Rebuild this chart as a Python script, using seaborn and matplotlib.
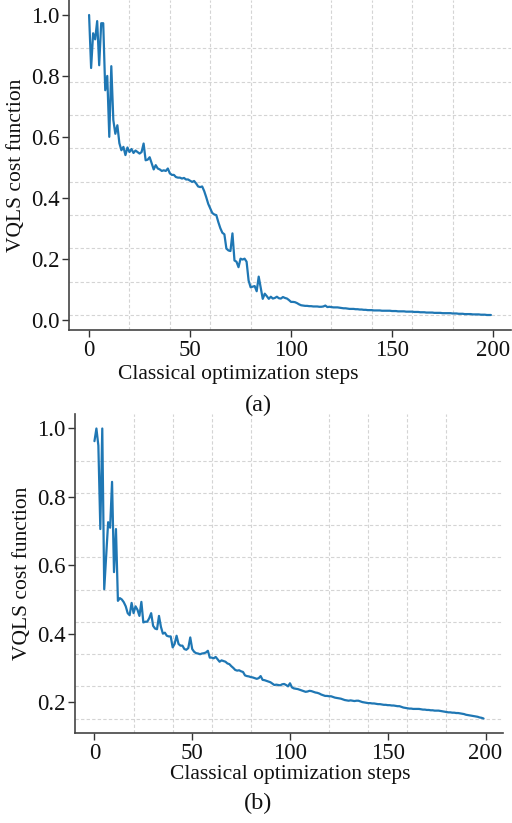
import numpy as np
import pandas as pd
import matplotlib
matplotlib.use("Agg")
import matplotlib.pyplot as plt
import seaborn as sns
from matplotlib.ticker import FixedLocator

sns.set_theme(style="ticks")
plt.rcParams["font.family"] = ["Liberation Serif", "DejaVu Serif"]

steps = list(range(200))

cost_a = [
    1.0, 0.826, 0.94, 0.92, 0.98, 0.835, 0.973, 0.973, 0.753, 0.80,
    0.60, 0.832, 0.655, 0.61, 0.638, 0.579, 0.556, 0.567, 0.54, 0.565,
    0.55, 0.56, 0.547, 0.555, 0.55, 0.545, 0.55, 0.578, 0.523, 0.525,
    0.533, 0.513, 0.493, 0.507, 0.496, 0.493, 0.488, 0.49, 0.488, 0.496,
    0.48, 0.475, 0.475, 0.468, 0.466, 0.466, 0.463, 0.465, 0.46, 0.46,
    0.456, 0.452, 0.455, 0.447, 0.437, 0.435, 0.437, 0.422, 0.402, 0.38,
    0.365, 0.35, 0.345, 0.343, 0.32, 0.30, 0.285, 0.28, 0.233, 0.227,
    0.225, 0.283, 0.194, 0.19, 0.172, 0.20, 0.197, 0.20, 0.19, 0.128,
    0.106, 0.108, 0.11, 0.093, 0.141, 0.105, 0.068, 0.085, 0.077, 0.068,
    0.075, 0.069, 0.071, 0.075, 0.07, 0.069, 0.074, 0.071, 0.069, 0.064,
    0.058, 0.058, 0.057, 0.054, 0.05, 0.047, 0.046, 0.045, 0.045, 0.044,
    0.044, 0.043, 0.043, 0.043, 0.042, 0.042, 0.043, 0.046, 0.041, 0.042,
    0.041, 0.040, 0.040, 0.040, 0.039, 0.038, 0.037, 0.037, 0.036, 0.035,
    0.035, 0.035, 0.034, 0.034, 0.033, 0.033, 0.032, 0.032, 0.031, 0.031,
    0.031, 0.030, 0.030, 0.030, 0.030, 0.029, 0.029, 0.029, 0.029, 0.029,
    0.028, 0.028, 0.028, 0.027, 0.027, 0.027, 0.027, 0.026, 0.026, 0.026,
    0.026, 0.025, 0.025, 0.025, 0.024, 0.024, 0.024, 0.023, 0.023, 0.023,
    0.023, 0.022, 0.022, 0.022, 0.022, 0.021, 0.021, 0.021, 0.021, 0.021,
    0.020, 0.020, 0.020, 0.019, 0.019, 0.019, 0.018, 0.018, 0.018, 0.018,
    0.017, 0.017, 0.017, 0.017, 0.016, 0.016, 0.016, 0.015, 0.015, 0.015,
]

cost_b = [
    0.963, 1.0, 0.95, 0.706, 1.0, 0.53, 0.63, 0.726, 0.71, 0.844,
    0.58, 0.706, 0.496, 0.504, 0.50, 0.492, 0.48, 0.46, 0.454, 0.49,
    0.46, 0.48, 0.47, 0.452, 0.493, 0.433, 0.435, 0.435, 0.445, 0.46,
    0.423, 0.415, 0.413, 0.452, 0.42, 0.40, 0.403, 0.394, 0.392, 0.392,
    0.36, 0.37, 0.394, 0.37, 0.365, 0.365, 0.355, 0.353, 0.358, 0.389,
    0.355, 0.347, 0.343, 0.342, 0.34, 0.342, 0.343, 0.345, 0.35, 0.33,
    0.33, 0.328, 0.332, 0.325, 0.318, 0.322, 0.32, 0.318, 0.313, 0.311,
    0.305, 0.30, 0.294, 0.292, 0.293, 0.29, 0.288, 0.278, 0.276, 0.275,
    0.273, 0.272, 0.27, 0.268, 0.27, 0.276, 0.265, 0.264, 0.262, 0.26,
    0.258, 0.254, 0.25, 0.251, 0.25, 0.249, 0.252, 0.253, 0.25, 0.246,
    0.255, 0.243, 0.24, 0.239, 0.238, 0.236, 0.234, 0.232, 0.23, 0.231,
    0.233, 0.232, 0.23, 0.228, 0.227, 0.225, 0.222, 0.22, 0.218, 0.218,
    0.217, 0.217, 0.215, 0.213, 0.212, 0.211, 0.21, 0.208, 0.206, 0.205,
    0.204, 0.205, 0.204, 0.203, 0.204, 0.204, 0.202, 0.2, 0.199, 0.198,
    0.197, 0.197, 0.196, 0.196, 0.195, 0.194, 0.194, 0.193, 0.192, 0.192,
    0.191, 0.191, 0.19, 0.19, 0.189, 0.188, 0.188, 0.186, 0.184, 0.183,
    0.182, 0.181, 0.181, 0.18, 0.18, 0.18, 0.18, 0.179, 0.178, 0.178,
    0.177, 0.177, 0.176, 0.176, 0.175, 0.175, 0.175, 0.174, 0.173, 0.172,
    0.171, 0.17, 0.17, 0.169, 0.169, 0.168, 0.168, 0.167, 0.166, 0.165,
    0.163, 0.162, 0.161, 0.16, 0.159, 0.158, 0.157, 0.155, 0.154, 0.152,
]

xticks = [0, 50, 100, 150, 200]
yticks_a = [0.0, 0.2, 0.4, 0.6, 0.8, 1.0]
yticks_b = [0.2, 0.4, 0.6, 0.8, 1.0]
xlabel = "Classical optimization steps"
ylabel = "VQLS cost function"
captions = ["(a)", "(b)"]

W, H = 512, 823
fig = plt.figure(figsize=(W / 100, H / 100), dpi=100)
ax_a = fig.add_axes([69 / W, 1 - 330 / H, 442 / W, 330 / H])
ax_b = fig.add_axes([75 / W, 1 - 733 / H, 428 / W, 319 / H])

panels = [(ax_a, cost_a, yticks_a), (ax_b, cost_b, yticks_b)]
for ax, vals, yt in panels:
    df = pd.DataFrame({"step": steps, "cost": vals})
    sns.lineplot(data=df, x="step", y="cost", ax=ax, color="#1f77b4", lw=1.6)
    ax.set_xticks(xticks)
    ax.set_yticks(yt)
    ax.set_xticklabels([str(t) for t in xticks])
    ax.set_yticklabels([f"{t:.1f}" for t in yt])
    ax.xaxis.set_minor_locator(FixedLocator(np.linspace(0, len(steps), 11)))
    ax.yaxis.set_minor_locator(FixedLocator(np.linspace(min(vals), max(vals), 10)))
    ax.grid(False, which="major")
    ax.grid(True, which="minor", linestyle=(0, (3, 2)), color="#d4d4d4", lw=0.8)
    ax.set_axisbelow(True)
    ax.tick_params(which="minor", length=0)
    ax.tick_params(which="major", length=5, width=1.0, color="#333333",
                   labelsize=16.5, pad=2, labelcolor="#111111")
    for s in ["left", "bottom"]:
        ax.spines[s].set_color("#444444")
        ax.spines[s].set_linewidth(1.2)
    sns.despine(ax=ax)
    ax.set_xlabel("")
    ax.set_ylabel(ylabel, fontsize=15.5, labelpad=3, color="#111111")

fig.text(238 / W, 1 - 375 / H, xlabel, ha="center", va="center", fontsize=15.5, color="#111111")
fig.text(290 / W, 1 - 775 / H, xlabel, ha="center", va="center", fontsize=15.5, color="#111111")
fig.text(258 / W, 1 - 405 / H, captions[0], ha="center", va="center", fontsize=17.5, color="#111111")
fig.text(258 / W, 1 - 803 / H, captions[1], ha="center", va="center", fontsize=17.5, color="#111111")

fig.savefig("out.png", dpi=100)
